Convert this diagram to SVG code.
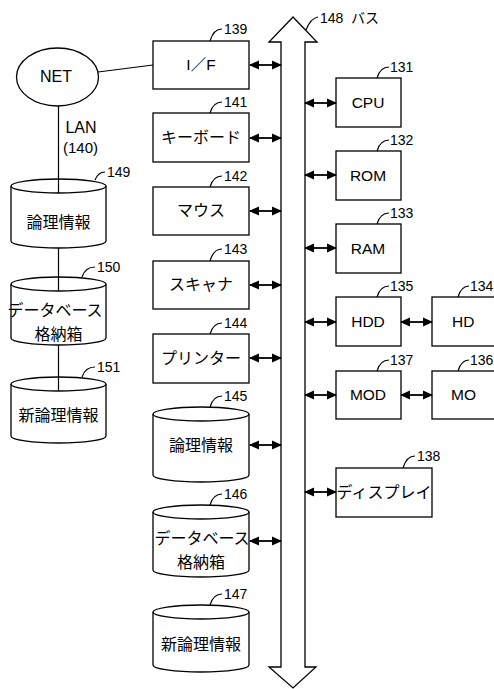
<svg xmlns="http://www.w3.org/2000/svg" width="494" height="689" viewBox="0 0 494 689">
<style>
.s{fill:#fff;stroke:#000;stroke-width:1.3}
.l{fill:none;stroke:#000;stroke-width:1.2}
.t{font-family:"Liberation Sans","Noto Sans CJK JP",sans-serif;font-size:16px;text-anchor:middle;fill:#000}
.e{font-family:"Liberation Sans","Noto Sans CJK JP",sans-serif;font-size:15.5px;text-anchor:middle;fill:#000}
.n{font-family:"Liberation Sans","Noto Sans CJK JP",sans-serif;font-size:14px;fill:#000}
.a{fill:none;stroke:#000;stroke-width:1.8;marker-start:url(#ah);marker-end:url(#ah)}
</style>
<defs>
<marker id="ah" viewBox="0 0 10 10" refX="9" refY="5" markerWidth="10" markerHeight="10" markerUnits="userSpaceOnUse" orient="auto-start-reverse">
<path d="M0,0.5 L10,5 L0,9.5 Z" fill="#000"/>
</marker>
</defs>

<g id="bus">
<polygon class="s" points="293,17 317,42 305,42 305,667 316,667 293,688 269,667 281,667 281,42 269,42"/>
<path class="l" d="M306,30 C309,22 313,18 318,17"/>
<text class="n" x="320" y="23">148</text>
<text class="n" x="351" y="23">バス</text>
</g>

<g id="net">
<ellipse class="s" cx="57.5" cy="77" rx="41" ry="29"/>
<text class="e" x="56" y="82" style="font-size:16px">NET</text>
</g>
<text class="e" x="81" y="133" style="font-size:16px">LAN</text>
<text class="n" x="63" y="153" style="font-size:15px">(140)</text>

<g id="n149">
<path class="s" d="M11,186 V241 A47.5,7 0 0 0 106,241 V186"/>
<ellipse class="s" cx="58.5" cy="186" rx="47.5" ry="7"/>
<text class="t" x="58.5" y="228">論理情報</text>
<path class="l" d="M95,180 C97,175 100,172 105,172"/>
<text class="n" x="107" y="177">149</text>
</g>
<g id="n150">
<path class="s" d="M11,284 V338 A47.5,7 0 0 0 106,338 V284"/>
<ellipse class="s" cx="58.5" cy="284" rx="47.5" ry="7"/>
<text class="t" x="55" y="316">データベース</text>
<text class="t" x="58.5" y="340">格納箱</text>
<path class="l" d="M82,277 C84,271 88,267 95,267"/>
<text class="n" x="97" y="272">150</text>
</g>
<g id="n151">
<path class="s" d="M11,384 V436 A47.5,7 0 0 0 106,436 V384"/>
<ellipse class="s" cx="58.5" cy="384" rx="47.5" ry="7"/>
<text class="t" x="58.5" y="421">新論理情報</text>
<path class="l" d="M82,377 C84,371 88,367 95,367"/>
<text class="n" x="97" y="372">151</text>
</g>

<g id="n139">
<rect class="s" x="153" y="41" width="96" height="48"/>
<text class="e" x="201" y="70">I／F</text>
<path class="l" d="M210,41 C212,34 216,29 222,29"/>
<text class="n" x="224" y="34">139</text>
</g>
<g id="n141">
<rect class="s" x="153" y="113" width="96" height="49"/>
<text class="t" x="201" y="143">キーボード</text>
<path class="l" d="M210,113 C212,106 216,102 222,102"/>
<text class="n" x="224" y="107">141</text>
</g>
<g id="n142">
<rect class="s" x="153" y="187" width="96" height="48"/>
<text class="t" x="201" y="216">マウス</text>
<path class="l" d="M210,187 C212,180 216,176 222,176"/>
<text class="n" x="224" y="181">142</text>
</g>
<g id="n143">
<rect class="s" x="153" y="261" width="96" height="48"/>
<text class="t" x="201" y="290">スキャナ</text>
<path class="l" d="M210,261 C212,254 216,249 222,249"/>
<text class="n" x="224" y="254">143</text>
</g>
<g id="n144">
<rect class="s" x="153" y="334" width="96" height="49"/>
<text class="t" x="201" y="364">プリンター</text>
<path class="l" d="M210,334 C212,327 216,323 222,323"/>
<text class="n" x="224" y="328">144</text>
</g>
<g id="n145">
<path class="s" d="M153,414 V475 A48,7 0 0 0 249,475 V414"/>
<ellipse class="s" cx="201" cy="414" rx="48" ry="7"/>
<text class="t" x="201" y="451">論理情報</text>
<path class="l" d="M210,407 C212,400 216,396 222,396"/>
<text class="n" x="224" y="401">145</text>
</g>
<g id="n146">
<path class="s" d="M153,512 V570 A48,7 0 0 0 249,570 V512"/>
<ellipse class="s" cx="201" cy="512" rx="48" ry="7"/>
<text class="t" x="202" y="544">データベース</text>
<text class="t" x="201" y="568">格納箱</text>
<path class="l" d="M210,505 C212,498 216,494 222,494"/>
<text class="n" x="224" y="499">146</text>
</g>
<g id="n147">
<path class="s" d="M153,612 V665 A48,7 0 0 0 249,665 V612"/>
<ellipse class="s" cx="201" cy="612" rx="48" ry="7"/>
<text class="t" x="201" y="650">新論理情報</text>
<path class="l" d="M210,605 C212,598 216,594 222,594"/>
<text class="n" x="224" y="599">147</text>
</g>

<g id="n131">
<rect class="s" x="336" y="78" width="65" height="49"/>
<text class="e" x="368" y="108">CPU</text>
<path class="l" d="M377,78 C379,71 383,67 389,67"/>
<text class="n" x="390" y="72">131</text>
</g>
<g id="n132">
<rect class="s" x="336" y="151" width="65" height="49"/>
<text class="e" x="368" y="181">ROM</text>
<path class="l" d="M377,151 C379,144 383,140 389,140"/>
<text class="n" x="390" y="145">132</text>
</g>
<g id="n133">
<rect class="s" x="336" y="224" width="65" height="49"/>
<text class="e" x="368" y="254">RAM</text>
<path class="l" d="M377,224 C379,217 383,213 389,213"/>
<text class="n" x="390" y="218">133</text>
</g>
<g id="n135">
<rect class="s" x="336" y="297" width="65" height="49"/>
<text class="e" x="368" y="327">HDD</text>
<path class="l" d="M377,297 C379,290 383,286 389,286"/>
<text class="n" x="390" y="291">135</text>
</g>
<g id="n134">
<rect class="s" x="432" y="297" width="70" height="49"/>
<text class="e" x="452" y="327" style="text-anchor:start">HD</text>
<path class="l" d="M458,297 C460,290 464,286 469,286"/>
<text class="n" x="470" y="291">134</text>
</g>
<g id="n137">
<rect class="s" x="336" y="371" width="65" height="48"/>
<text class="e" x="368" y="400">MOD</text>
<path class="l" d="M377,371 C379,364 383,360 389,360"/>
<text class="n" x="390" y="365">137</text>
</g>
<g id="n136">
<rect class="s" x="432" y="371" width="70" height="48"/>
<text class="e" x="451" y="400" style="text-anchor:start">MO</text>
<path class="l" d="M458,371 C460,364 464,360 469,360"/>
<text class="n" x="470" y="365">136</text>
</g>
<g id="n138">
<rect class="s" x="336" y="468" width="96" height="49"/>
<text class="t" x="384" y="498">ディスプレイ</text>
<path class="l" d="M403,468 C405,461 409,456 415,456"/>
<text class="n" x="417" y="461">138</text>
</g>

<g id="connectors">
<line class="l" x1="98" y1="72" x2="153" y2="65"/>
<line class="l" x1="58.5" y1="106" x2="58.5" y2="193"/>
<line class="l" x1="58.5" y1="248" x2="58.5" y2="291"/>
<line class="l" x1="58.5" y1="345" x2="58.5" y2="391"/>
<line class="a" x1="250" y1="65" x2="281" y2="65"/>
<line class="a" x1="250" y1="138" x2="281" y2="138"/>
<line class="a" x1="250" y1="211" x2="281" y2="211"/>
<line class="a" x1="250" y1="285" x2="281" y2="285"/>
<line class="a" x1="250" y1="358" x2="281" y2="358"/>
<line class="a" x1="250" y1="445" x2="281" y2="445"/>
<line class="a" x1="250" y1="541" x2="281" y2="541"/>
<line class="a" x1="305" y1="103" x2="336" y2="103"/>
<line class="a" x1="305" y1="175" x2="336" y2="175"/>
<line class="a" x1="305" y1="248" x2="336" y2="248"/>
<line class="a" x1="305" y1="322" x2="336" y2="322"/>
<line class="a" x1="305" y1="395" x2="336" y2="395"/>
<line class="a" x1="305" y1="492" x2="336" y2="492"/>
<line class="a" x1="401" y1="322" x2="432" y2="322"/>
<line class="a" x1="401" y1="395" x2="432" y2="395"/>
</g>
</svg>
